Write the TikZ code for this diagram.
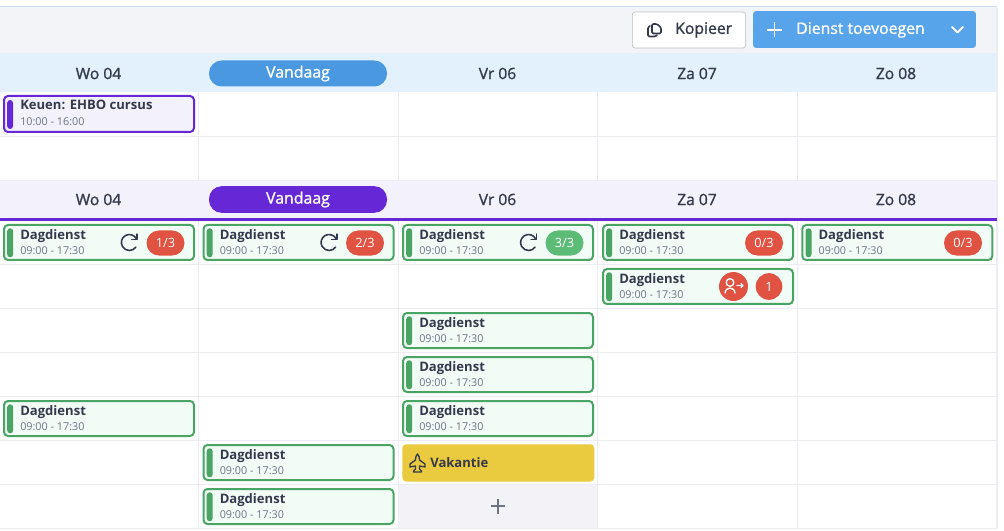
\documentclass[tikz,border=0pt]{standalone}
\usepackage{fontspec}
\setmainfont{Open Sans}
\newfontfamily\medfont[FakeBold=1.2]{Open Sans}
\definecolor{gridc}{HTML}{ECEDF2}
\definecolor{topbg}{HTML}{F2F4F8}
\definecolor{bluebg}{HTML}{E3F1FC}
\definecolor{purplebg}{HTML}{F3F1FB}
\definecolor{ink}{HTML}{343A4C}
\definecolor{subink}{HTML}{6E7484}
\definecolor{blue1}{HTML}{57A4EA}
\definecolor{blue2}{HTML}{4A98E0}
\definecolor{purple1}{HTML}{6628D6}
\definecolor{green1}{HTML}{4AA564}
\definecolor{greenbg}{HTML}{F2FCF7}
\definecolor{red1}{HTML}{E05241}
\definecolor{green2}{HTML}{5DBB78}
\definecolor{yellow1}{HTML}{EACA3F}
\definecolor{plusbg}{HTML}{F3F3F7}
\tikzset{
  x=0.75pt,y=-0.75pt,
  gridline/.style={draw=gridc,line width=0.9pt},
  daylabel/.style={font=\fontsize{11.7pt}{13pt}\medfont,text=ink,inner sep=0pt},
  todaylabel/.style={font=\fontsize{11.9pt}{13pt}\medfont,text=white,inner sep=0pt},
  cardbox/.style={rectangle,rounded corners=3pt,line width=1.5pt,inner sep=0pt,anchor=north west,minimum width=142.5pt,minimum height=26.25pt},
  shiftbox/.style={cardbox,draw=green1,fill=greenbg},
  coursebox/.style={cardbox,draw=purple1,fill=purplebg,minimum height=27pt},
  titletext/.style={font=\fontsize{9.8pt}{11pt}\selectfont\bfseries,text=ink,inner sep=0pt,anchor=base west},
  timetext/.style={font=\fontsize{8.1pt}{10pt}\selectfont,text=subink,inner sep=0pt,anchor=base west},
  badge/.style={rectangle,rounded corners=9.4pt,fill=#1,minimum width=28.5pt,minimum height=18.8pt,inner sep=0pt,font=\fontsize{9.6pt}{11pt}\selectfont,text=white},
  roundbadge/.style={circle,fill=red1,minimum size=20pt,inner sep=0pt,font=\fontsize{9.6pt}{11pt}\selectfont,text=white},
  iconline/.style={draw=ink,line width=1pt,line cap=round,line join=round},
}
% \shiftcard{name}{x}{y}: x,y = outer top-left corner
\newcommand{\shiftcard}[3]{%
  \node[shiftbox] (#1) at (#2,#3) {};
  \fill[green1,rounded corners=2.2pt] (#2+4.2,#3+4.3) rectangle (#2+10.2,#3+33.3);
  \node[titletext] (#1t) at (#2+17,#3+15.3) {Dagdienst};
  \node[timetext] (#1s) at (#2+17,#3+30.8) {09:00 - 17:30};
}
% \rotateicon{x}{y}
\newcommand{\rotateicon}[2]{%
  \draw[iconline,line width=1.2pt] (#1+7,#2-4) arc (-30:-325:8);
  \draw[iconline,line width=1.2pt] (#1+7.8,#2-8.4) -- (#1+7.8,#2-3) -- (#1+2.6,#2-3);
}
\begin{document}
\begin{tikzpicture}
\useasboundingbox (0,0) rectangle (1004,531);
\fill[white] (0,0) rectangle (1004,531);
% toolbar and header bands
\fill[topbg] (0,7) rectangle (997,53);
\draw[draw=blue1!22!gridc,line width=0.5pt] (0,6.5) -- (997,6.5);
\fill[bluebg] (0,53) rectangle (997,92);
\fill[purplebg] (0,181) rectangle (997,218);
% grid
\foreach \xx in {198.5,398.5,597.8,797.5,997} {
  \draw[gridline] (\xx,92) -- (\xx,181);
  \draw[gridline] (\xx,220) -- (\xx,528);
}
\draw[gridline] (997,7) -- (997,528);
\foreach \yy in {136.5,180.5,264.5,308.5,352.5,396.5,440.5,484.5,528.5} {
  \draw[gridline] (0,\yy) -- (997,\yy);
}
\fill[purple1] (0,217.7) rectangle (997,220.7);
% toolbar
\node[draw=gridc!80!black,fill=white,rounded corners=2pt,line width=0.5pt,minimum width=85pt,minimum height=27pt,inner sep=0pt] (copybtn) at (689,30) {};
\node[font=\fontsize{11.8pt}{13pt}\medfont,text=ink,inner sep=0pt,anchor=west] (copytxt) at (675,30) {Kopieer};
\draw[iconline,line width=1.2pt,rounded corners=1pt] (650,26) -- (648,27) -- (648,36.5) -- (656,36.5) -- (657,35);
\draw[iconline,line width=1.2pt,rounded corners=1pt] (652,24) -- (657,24) -- (661,27.5) -- (661,33.5) -- (652,33.5) -- cycle;
\node[fill=blue1,rounded corners=2pt,minimum width=167pt,minimum height=27.5pt,inner sep=0pt] (addbtn) at (864.5,29.5) {};
\node[font=\fontsize{11.85pt}{13pt}\medfont,text=white,inner sep=0pt,anchor=west] (addtxt) at (796,30) {Dienst toevoegen};
\draw[white,line width=1.2pt] (767,30) -- (782,30) (774.5,22.5) -- (774.5,37.5);
\draw[white,line width=1.4pt,line cap=round,line join=round] (952,27) -- (957.5,32.5) -- (963,27);
% headers
\node[daylabel] (a1) at (98.5,73.5) {Wo 04};
\node[fill=blue2,rounded corners=9.5pt,minimum width=133.5pt,minimum height=19.5pt,inner sep=0pt] (a2p) at (298,73.5) {};
\node[todaylabel] (a2) at (298,73.5) {Vandaag};
\node[daylabel] (a3) at (497.5,73.5) {Vr 06};
\node[daylabel] (a4) at (697,73.5) {Za 07};
\node[daylabel] (a5) at (896,73.5) {Zo 08};
\node[daylabel] (b1) at (98.5,199.5) {Wo 04};
\node[fill=purple1,rounded corners=9.5pt,minimum width=133.5pt,minimum height=20pt,inner sep=0pt] (b2p) at (298,199.5) {};
\node[todaylabel] (b2) at (298,199.5) {Vandaag};
\node[daylabel] (b3) at (497.5,199.5) {Vr 06};
\node[daylabel] (b4) at (697,199.5) {Za 07};
\node[daylabel] (b5) at (896,199.5) {Zo 08};
% course card
\node[coursebox] (course) at (3,95) {};
\fill[purple1,rounded corners=2.2pt] (7.2,100) rectangle (13,129);
\node[titletext] (coursetitle) at (20,110) {Keuen: EHBO cursus};
\node[timetext] (coursetime) at (20,125.5) {10:00 - 16:00};
% shift cards
\shiftcard{c1}{3}{224}
\shiftcard{c2}{202.5}{224}
\shiftcard{c3}{402}{224}
\shiftcard{c4}{602}{224}
\shiftcard{c5}{801.3}{224}
\shiftcard{c6}{602}{268}
\shiftcard{c7}{402}{312}
\shiftcard{c8}{402}{356}
\shiftcard{c9}{402}{400}
\shiftcard{c10}{3}{400}
\shiftcard{c11}{202.5}{444}
\shiftcard{c12}{202.5}{488}
% badges
\rotateicon{129.3}{242.5}
\node[badge=red1] (b1a) at (165.5,243) {1/3};
\rotateicon{329}{242.5}
\node[badge=red1] (b2a) at (365,243) {2/3};
\rotateicon{528.5}{242.5}
\node[badge=green2] (b3a) at (564.5,243) {3/3};
\node[badge=red1] (b4a) at (764,243) {0/3};
\node[badge=red1] (b5a) at (963,243) {0/3};
\node[roundbadge,minimum size=21.7pt] (b6i) at (733.5,286.5) {};
\draw[white,line width=1pt] (730,282.5) circle (3.8);
\draw[white,line width=1pt,line cap=round] (725,293) .. controls (725.5,286.5) and (734.5,286.5) .. (735,293);
\draw[white,line width=1pt,line cap=round,line join=round] (737,285.5) -- (743,285.5) (741,283.5) -- (743,285.5) -- (741,287.5);
\node[roundbadge] (b6n) at (769,286.5) {1};
% holiday
\node[fill=yellow1,rounded corners=3pt,minimum width=144pt,minimum height=28pt,inner sep=0pt,anchor=north west] (vac) at (402,444) {};
\node[titletext] (vactxt) at (430,467) {Vakantie};
\draw[iconline,line width=1pt] (417.5,454) .. controls (415.5,456) and (415.5,458) .. (415.5,460) -- (410,464) -- (410,467) -- (415.5,466) -- (415.5,469) -- (413.5,471) -- (413.5,472) -- (421.5,472) -- (421.5,471) -- (419.5,469) -- (419.5,466) -- (425,467) -- (425,464) -- (419.5,460) .. controls (419.5,458) and (419.5,456) .. (417.5,454) -- cycle;
% add cell
\fill[plusbg] (399,485) rectangle (597.3,528);
\draw[draw=subink,line width=1.2pt] (490.5,506) -- (505,506) (497.7,498.5) -- (497.7,513.5);
\end{tikzpicture}
\end{document}
